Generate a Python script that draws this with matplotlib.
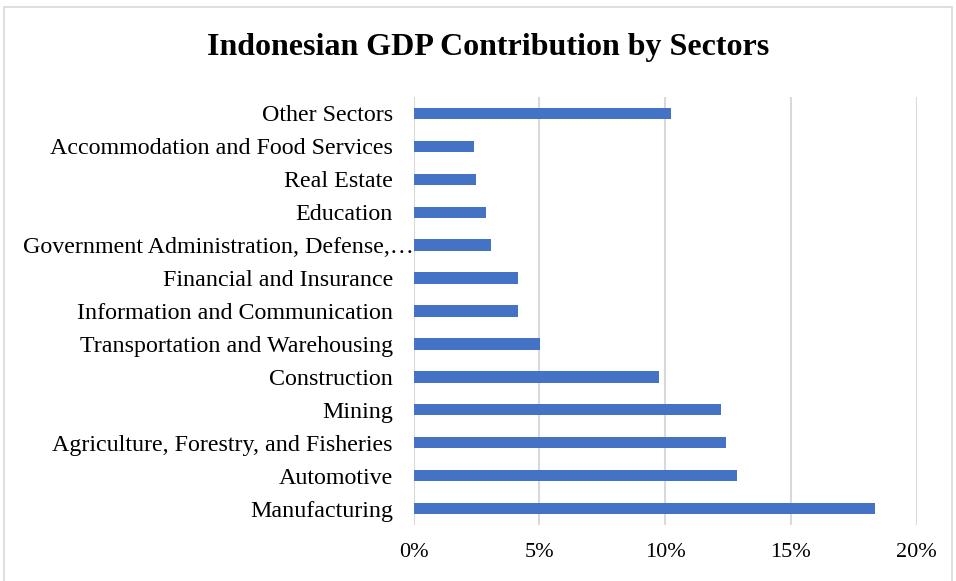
import matplotlib.pyplot as plt
from matplotlib.patches import Rectangle
from matplotlib.ticker import FuncFormatter
from matplotlib.transforms import ScaledTranslation

# GDP share by sector (fraction of total), bottom to top
sectors = ["Manufacturing", "Automotive", "Agriculture, Forestry, and Fisheries",
           "Mining", "Construction", "Transportation and Warehousing",
           "Information and Communication", "Financial and Insurance",
           "Government Administration, Defense,\u2026", "Education",
           "Real Estate", "Accommodation and Food Services", "Other Sectors"]
shares = [0.1834, 0.1284, 0.1240, 0.1222, 0.0977, 0.0502,
          0.0415, 0.0413, 0.0309, 0.0289, 0.0249, 0.0240, 0.1023]
xticks = [0, 0.05, 0.10, 0.15, 0.20]

plt.rcParams['font.family'] = ['Liberation Serif', 'DejaVu Serif']

W, H = 956, 581
fig = plt.figure(figsize=(W/100, H/100), dpi=100)
ax = fig.add_axes([413.7/W, 1-525/H, (916.7-413.7)/W, (525-97)/H])

ax.barh(range(len(sectors)), shares, height=0.345, color='#4472C4', zorder=3)
ax.set_xlim(0, 0.20)
ax.set_ylim(-0.5, len(sectors)-0.5)
ax.set_xticks(xticks)
ax.xaxis.set_major_formatter(FuncFormatter(lambda v, p: "%d%%" % round(v*100)))
ax.set_yticks(range(len(sectors)))
ax.set_yticklabels(sectors)
ax.tick_params(axis='both', length=0, colors='black')
ax.tick_params(axis='y', pad=15, labelsize=17.3)
ax.tick_params(axis='x', pad=13, labelsize=16)
ax.grid(axis='x', color='#D9D9D9', linewidth=1.5, zorder=0)
for s in ax.spines.values():
    s.set_visible(False)

# the truncated label runs past the others up to the axis
for lab in ax.get_yticklabels():
    if lab.get_text().endswith("\u2026"):
        lab.set_transform(lab.get_transform() +
                          ScaledTranslation(21/100, 0, fig.dpi_scale_trans))

fig.text(0.511, 1-47/H, "Indonesian GDP Contribution by Sectors",
         ha='center', va='center', fontsize=23, fontweight='bold')

# chart-area border
fig.patches.append(Rectangle((4/W, -0.01), (952-4)/W, 1-7/H+0.01,
                             transform=fig.transFigure, fill=False,
                             edgecolor='#D9D9D9', linewidth=1.2))

fig.savefig("out.png", dpi=100)
